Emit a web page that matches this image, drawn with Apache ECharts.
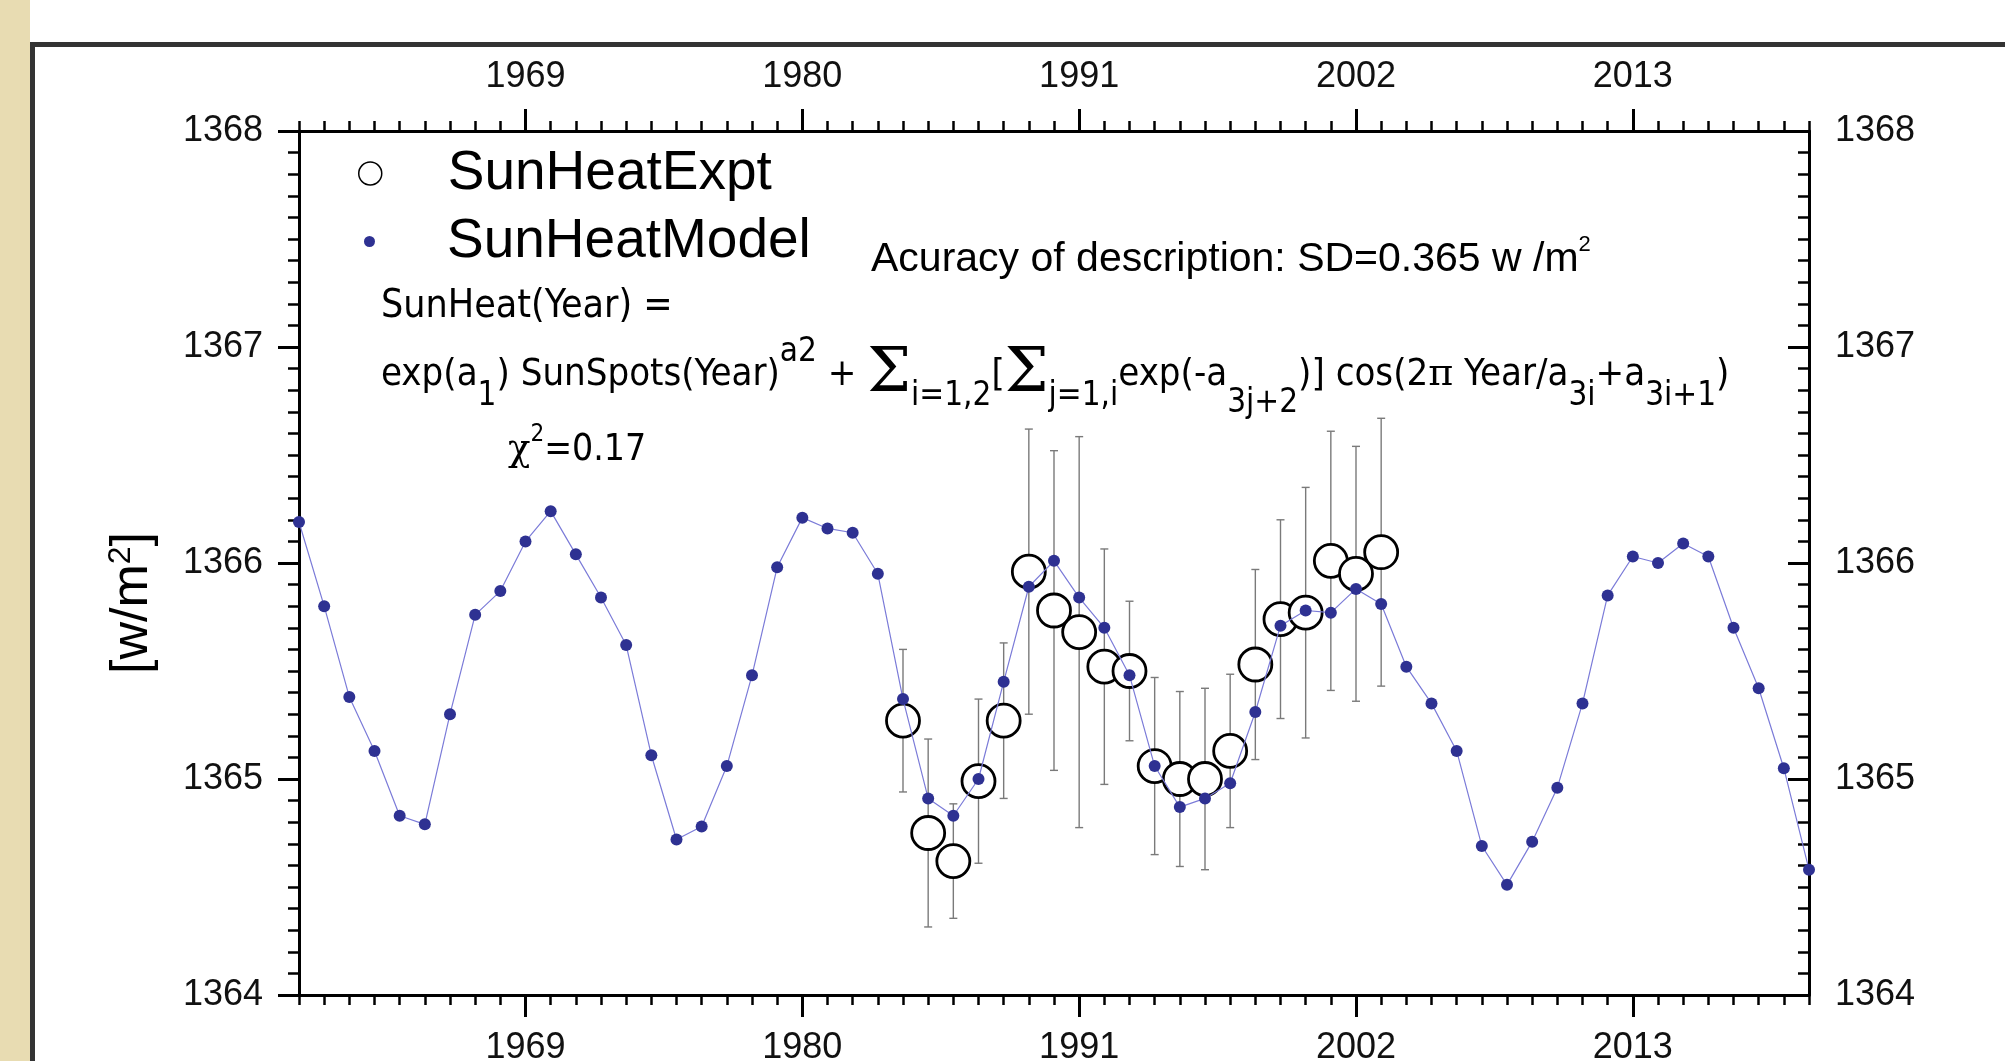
<!DOCTYPE html>
<html>
<head>
<meta charset="utf-8">
<script src="https://cdn.jsdelivr.net/npm/echarts@6/dist/echarts.min.js"></script>
<style>
  html, body { margin: 0; padding: 0; background: #fff; }
  #chart { width: 2005px; height: 1061px; }
</style>
</head>
<body>
<div id="chart"></div>
<script>
// model curve, one point per year
var modelYears = [1960, 1961, 1962, 1963, 1964, 1965, 1966, 1967, 1968, 1969,
  1970, 1971, 1972, 1973, 1974, 1975, 1976, 1977, 1978, 1979,
  1980, 1981, 1982, 1983, 1984, 1985, 1986, 1987, 1988, 1989,
  1990, 1991, 1992, 1993, 1994, 1995, 1996, 1997, 1998, 1999,
  2000, 2001, 2002, 2003, 2004, 2005, 2006, 2007, 2008, 2009,
  2010, 2011, 2012, 2013, 2014, 2015, 2016, 2017, 2018, 2019, 2020];
var modelValues = [1366.19, 1365.80, 1365.38, 1365.13, 1364.83, 1364.79, 1365.30, 1365.76, 1365.87, 1366.10,
  1366.24, 1366.04, 1365.84, 1365.62, 1365.11, 1364.72, 1364.78, 1365.06, 1365.48, 1365.98,
  1366.21, 1366.16, 1366.14, 1365.95, 1365.37, 1364.91, 1364.83, 1365.00, 1365.45, 1365.89,
  1366.01, 1365.84, 1365.70, 1365.48, 1365.06, 1364.87, 1364.91, 1364.98, 1365.31, 1365.71,
  1365.78, 1365.77, 1365.88, 1365.81, 1365.52, 1365.35, 1365.13, 1364.69, 1364.51, 1364.71,
  1364.96, 1365.35, 1365.85, 1366.03, 1366.00, 1366.09, 1366.03, 1365.70, 1365.42, 1365.05, 1364.58];

// measured values with +/- error
var exptYears = [1984, 1985, 1986, 1987, 1988, 1989, 1990, 1991, 1992, 1993,
  1994, 1995, 1996, 1997, 1998, 1999, 2000, 2001, 2002, 2003];
var exptValues = [1365.27, 1364.75, 1364.62, 1364.99, 1365.27, 1365.96, 1365.78, 1365.68, 1365.52, 1365.50,
  1365.06, 1365.00, 1365.00, 1365.13, 1365.53, 1365.74, 1365.77, 1366.01, 1365.95, 1366.05];
var exptErr = [0.33, 0.435, 0.265, 0.38, 0.36, 0.66, 0.74, 0.905, 0.545, 0.323,
  0.41, 0.405, 0.42, 0.355, 0.44, 0.46, 0.58, 0.60, 0.59, 0.62];

var yearTicks = [1969, 1980, 1991, 2002, 2013];
var valueTicks = [1364, 1365, 1366, 1367, 1368];

var modelData = modelYears.map(function (y, i) { return [y, modelValues[i]]; });
var exptData = exptYears.map(function (y, i) { return [y, exptValues[i]]; });
var errData = exptYears.map(function (y, i) {
  return [y, exptValues[i] - exptErr[i], exptValues[i] + exptErr[i]];
});

var labelFont = 'Liberation Sans, Arial, sans-serif';
var eqFont = 'DejaVu Sans Condensed, DejaVu Sans, sans-serif';
var plain = function (v) { return String(v); };

function yearAxis(pos, major) {
  return {
    type: 'value', position: pos, min: 1960, max: 2020, interval: 1,
    splitLine: { show: false },
    axisLine: { show: !major, lineStyle: { color: '#000', width: 3 } },
    axisTick: major
      ? { customValues: yearTicks, length: 22, lineStyle: { color: '#000', width: 3 } }
      : { length: 10, lineStyle: { color: '#000', width: 2.5 } },
    axisLabel: major ? { show: false } : {
      customValues: yearTicks, formatter: plain, margin: pos === 'top' ? 36 : 35, color: '#111',
      fontFamily: labelFont, fontSize: 36
    }
  };
}

function valueAxis(pos) {
  return {
    type: 'value', position: pos, min: 1364, max: 1368, interval: 1,
    splitLine: { show: false },
    axisLine: { show: true, lineStyle: { color: '#000', width: 3 } },
    axisTick: { inside: pos === 'right', length: 21, lineStyle: { color: '#000', width: 3 } },
    minorTick: { show: true, splitNumber: 10, length: 11, lineStyle: { color: '#000', width: 2.5 } },
    axisLabel: {
      customValues: valueTicks, formatter: plain, margin: pos === 'right' ? 26 : 36, color: '#111',
      fontFamily: labelFont, fontSize: 36
    }
  };
}

var chart = echarts.init(document.getElementById('chart'));
chart.setOption({
  animation: false,
  backgroundColor: '#fff',
  grid: { left: 299, right: 196, top: 131, bottom: 66, containLabel: false, outerBoundsMode: 'none' },
  xAxis: [yearAxis('bottom', false), yearAxis('bottom', true), yearAxis('top', false), yearAxis('top', true)],
  yAxis: [valueAxis('left'), valueAxis('right')],
  legend: [
    {
      data: ['SunHeatExpt'], left: 358, top: 146, padding: 0,
      icon: 'circle', itemWidth: 23, itemHeight: 23,
      itemStyle: { color: '#fff', borderColor: '#000', borderWidth: 1.5 },
      textStyle: { fontFamily: labelFont, fontSize: 55, color: '#000', padding: [0, 0, 0, 61] }
    },
    {
      data: ['SunHeatModel'], left: 364, top: 214, padding: 0,
      icon: 'circle', itemWidth: 11, itemHeight: 11,
      textStyle: { fontFamily: labelFont, fontSize: 55, color: '#000', padding: [0, 0, 0, 67] }
    }
  ],
  graphic: [
    { type: 'rect', shape: { x: 0, y: 0, width: 30, height: 1061 }, style: { fill: '#e8dcb2' }, silent: true },
    { type: 'rect', shape: { x: 30, y: 42, width: 1975, height: 5 }, style: { fill: '#333' }, silent: true },
    { type: 'rect', shape: { x: 30, y: 42, width: 5, height: 1019 }, style: { fill: '#333' }, silent: true },
    {
      type: 'text', x: 133, y: 603, rotation: Math.PI / 2,
      style: {
        text: '[w/m{sup|2}]', fill: '#000', font: '52px ' + labelFont,
        textAlign: 'center', textVerticalAlign: 'middle',
        rich: { sup: { fontSize: 32, fontFamily: labelFont, fill: '#000', padding: [0, 0, 24, 0] } }
      }
    },
    {
      type: 'text', x: 871, y: 260,
      style: {
        text: 'Acuracy of description: SD=0.365 w /m{sup|2}', fill: '#000', font: '41px ' + labelFont,
        textVerticalAlign: 'middle',
        rich: { sup: { fontSize: 22, fontFamily: labelFont, fill: '#000', padding: [0, 0, 30, 0] } }
      }
    },
    {
      type: 'text', x: 381, y: 307,
      style: { text: 'SunHeat(Year) =', fill: '#000', font: '39px ' + eqFont, textVerticalAlign: 'middle' }
    },
    {
      type: 'text', x: 381, y: 375,
      style: {
        text: 'exp(a{sub|1}) SunSpots(Year){sup|a2} + {sig|\u03A3}{sub|i=1,2}[{sig|\u03A3}{sub|j=1,i}exp(-a{sub2|3j+2})] cos(2{pi|\u03C0} Year/a{sub|3i}+a{sub|3i+1})',
        fill: '#000', fontSize: 38, fontFamily: eqFont, lineHeight: 120, textVerticalAlign: 'middle',
        rich: {
          sub: { fontSize: 33, fontFamily: eqFont, fill: '#000', lineHeight: 120, padding: [42, 0, 0, 0] },
          sub2: { fontSize: 33, fontFamily: eqFont, fill: '#000', lineHeight: 120, padding: [56, 0, 0, 0] },
          sup: { fontSize: 33, fontFamily: eqFont, fill: '#000', lineHeight: 120, padding: [0, 0, 46, 0] },
          sig: { fontSize: 62, fontFamily: 'DejaVu Serif, serif', fill: '#000', lineHeight: 120 },
          pi: { fontSize: 38, fontFamily: 'DejaVu Serif, serif', fill: '#000', lineHeight: 120 }
        }
      }
    },
    {
      type: 'text', x: 508, y: 450,
      style: {
        text: '{chi|\u03C7}{sup|2}=0.17', fill: '#000', fontSize: 37, fontFamily: eqFont, textVerticalAlign: 'middle',
        rich: {
          chi: { fontSize: 37, fontFamily: 'DejaVu Serif, serif', fill: '#000' },
          sup: { fontSize: 24, fontFamily: eqFont, fill: '#000', padding: [0, 0, 30, 0] }
        }
      }
    }
  ],
  series: [
    {
      name: 'errors', type: 'custom', z: 1, silent: true,
      encode: { x: 0, y: [1, 2] },
      data: errData,
      renderItem: function (params, api) {
        var x = api.value(0);
        var lo = api.coord([x, api.value(1)]);
        var hi = api.coord([x, api.value(2)]);
        var st = { stroke: '#7a7a7a', lineWidth: 1.4 };
        return {
          type: 'group', children: [
            { type: 'line', shape: { x1: lo[0], y1: lo[1], x2: hi[0], y2: hi[1] }, style: st },
            { type: 'line', shape: { x1: hi[0] - 4, y1: hi[1], x2: hi[0] + 4, y2: hi[1] }, style: st },
            { type: 'line', shape: { x1: lo[0] - 4, y1: lo[1], x2: lo[0] + 4, y2: lo[1] }, style: st }
          ]
        };
      }
    },
    {
      name: 'SunHeatExpt', type: 'scatter', z: 2,
      symbol: 'circle', symbolSize: 33,
      itemStyle: { color: '#fff', borderColor: '#000', borderWidth: 2.8, opacity: 1 },
      data: exptData
    },
    {
      name: 'SunHeatModel', type: 'line', z: 3,
      symbol: 'circle', symbolSize: 12, showSymbol: true,
      itemStyle: { color: '#2e3192' },
      lineStyle: { color: '#7b7bd8', width: 1.2 },
      data: modelData
    }
  ]
});
</script>
</body>
</html>
